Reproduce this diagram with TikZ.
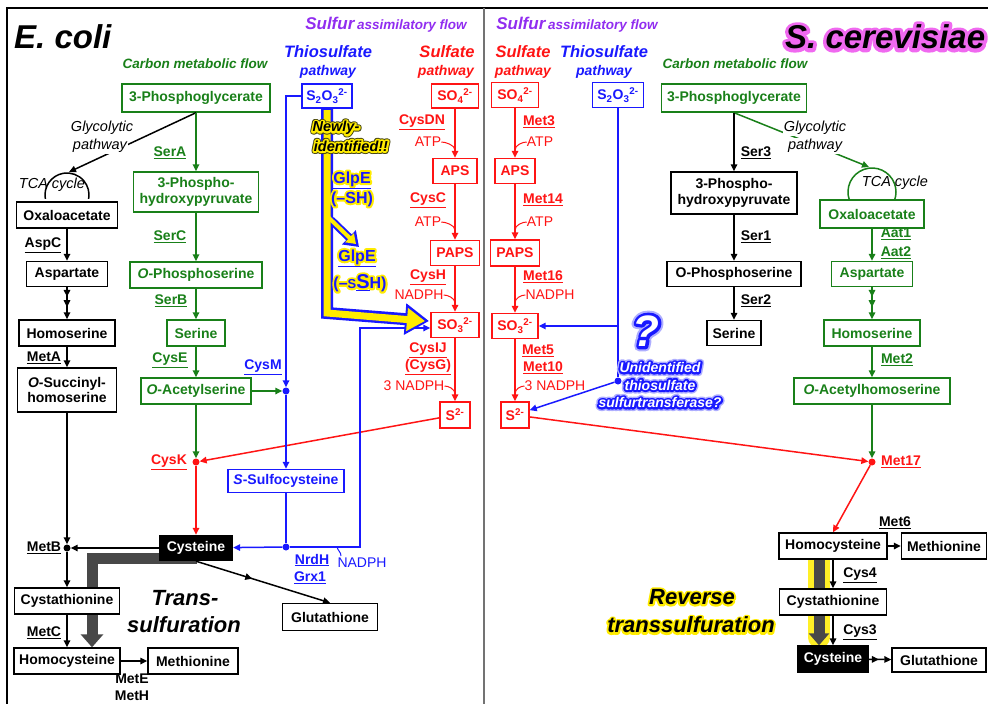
\documentclass[tikz,border=0pt]{standalone}
\usepackage{fontspec}
\setmainfont{Liberation Sans}
\usetikzlibrary{arrows.meta,calc,decorations.markings}
\pgfdeclarelayer{bg}
\pgfsetlayers{bg,main}
\definecolor{cgreen}{RGB}{25,128,25}
\definecolor{cred}{RGB}{255,20,20}
\definecolor{cblue}{RGB}{25,25,255}
\definecolor{cpurple}{RGB}{145,45,240}
\definecolor{cgray}{RGB}{72,72,72}
\definecolor{cyel}{RGB}{255,236,0}
\definecolor{cpink}{RGB}{240,105,240}
\definecolor{cdark}{RGB}{70,70,20}
\newcommand\bxf{\bfseries\fontsize{14}{15.5}\selectfont}
\newcommand\enf{\bfseries\fontsize{14}{17}\selectfont}
\newcommand\cof{\fontsize{14}{16}\selectfont}
% glow: stroked copy of the text (PDF text render mode 1) under the filled text
\newcommand\glwc[3]{\rlap{\special{pdf:literal 1 j 1 J #2 w 1 Tr}\color{#1}#3\special{pdf:literal 0 Tr}}}
\newcommand\glw[3]{\leavevmode\glwc{#1}{#2}{#3}#3}
\begin{document}
\begin{tikzpicture}[x=1pt,y=-1pt,
 bx/.style={draw,line width=1.4pt,inner sep=1pt,align=center,font=\bxf,fill=white},
 gb/.style={bx,draw=cgreen,text=cgreen},
 kb/.style={bx,draw=black,text=black},
 rb/.style={bx,draw=cred,text=cred},
 bb/.style={bx,draw=cblue,text=cblue},
 cb/.style={bx,fill=black,text=white},
 enz/.style={font=\enf,inner sep=0pt},
 cofn/.style={font=\cof,inner sep=0pt},
 ln/.style={line width=1.5pt},
 ar/.style={ln,-{Triangle[length=7pt,width=6.5pt]}},
 jdot/.style={circle,fill,inner sep=0pt,minimum size=7pt},
 hk/.style={line width=1pt},
 glyc/.style={font=\itshape\fontsize{14.5}{16}\selectfont,fill=white,inner sep=1pt},
 tri/.style={ln,-{Triangle[length=7pt,width=6.5pt]},postaction={decorate,decoration={markings,mark=at position 0.3 with {\arrow{Triangle[length=7pt,width=6.5pt]}},mark=at position 0.62 with {\arrow{Triangle[length=7pt,width=6.5pt]}}}}},
 midarr/.style={postaction={decorate,decoration={markings,mark=at position #1 with {\arrow{Triangle[length=7pt,width=6.5pt]}}}}},
 head/.style={font=\bfseries\itshape\fontsize{16.5}{17}\selectfont,inner sep=0pt},
 headp/.style={font=\bfseries\itshape\fontsize{14}{15}\selectfont,inner sep=0pt},
 cmf/.style={font=\bfseries\itshape\fontsize{13.5}{14}\selectfont,text=cgreen,inner sep=0pt},
 big/.style={font=\bfseries\itshape\fontsize{22}{24}\selectfont,inner sep=0pt},
]
\useasboundingbox (0,0) rectangle (988,704);
\begin{pgfonlayer}{bg}
\fill[white] (0,0) rectangle (988,704);
\end{pgfonlayer}
% frame
\draw[line width=2pt] (7,704) -- (7,8) -- (990,8);
\draw[line width=1.5pt,black!55] (484,8) -- (484,704);

% titles and headings
\node[font=\bfseries\itshape\fontsize{33}{33}\selectfont,anchor=west,inner sep=0pt] (ecoli) at (14,37) {E. coli};
\node[font=\bfseries\itshape\fontsize{33}{33}\selectfont,anchor=west,inner sep=0pt] (scer) at (785,37) {\glw{cpink}{7}{S. cerevisiae}};
\node[cmf] (cmfL) at (195,64) {Carbon metabolic flow};
\node[cmf] (cmfR) at (735,64) {Carbon metabolic flow};
\node[text=cpurple,inner sep=0pt] (saL) at (386,25) {{\bfseries\itshape\fontsize{17}{18}\selectfont Sulfur} {\bfseries\itshape\fontsize{13.5}{14}\selectfont assimilatory flow}};
\node[text=cpurple,inner sep=0pt] (saR) at (577,25) {{\bfseries\itshape\fontsize{17}{18}\selectfont Sulfur} {\bfseries\itshape\fontsize{13.5}{14}\selectfont assimilatory flow}};
\node[head,text=cblue] (thL) at (328,52) {Thiosulfate};
\node[headp,text=cblue] (thpL) at (328,72) {pathway};
\node[head,text=cred] (suL) at (447,52) {Sulfate};
\node[headp,text=cred] (supL) at (446,72) {pathway};
\node[head,text=cred] (suR) at (523,52) {Sulfate};
\node[headp,text=cred] (supR) at (523,72) {pathway};
\node[head,text=cblue] (thR) at (604,52) {Thiosulfate};
\node[headp,text=cblue] (thpR) at (604,72) {pathway};

% LEFT boxes
\node[gb,minimum width=148pt,minimum height=28pt] (pg) at (196,98) {3-Phosphoglycerate};
\node[gb,minimum width=125pt,minimum height=40pt] (hpp) at (196,192) {3-Phospho-\\hydroxypyruvate};
\node[gb,minimum width=132pt,minimum height=26pt] (ops) at (196,275) {\textit{O}-Phosphoserine};
\node[gb,minimum width=58pt,minimum height=26pt] (ser) at (196,333) {Serine};
\node[gb,minimum width=110pt,minimum height=26pt] (oas) at (196,391) {\textit{O}-Acetylserine};
\node[kb,minimum width=101pt,minimum height=26pt] (oaa) at (67,215) {Oxaloacetate};
\node[kb,minimum width=81pt,minimum height=25pt] (asp) at (67,274) {Aspartate};
\node[kb,minimum width=96pt,minimum height=26pt] (hse) at (67,333) {Homoserine};
\node[kb,minimum width=99pt,minimum height=44pt] (osh) at (67,390) {\textit{O}-Succinyl-\\homoserine};
\node[kb,minimum width=105pt,minimum height=26pt] (cth) at (67,601) {Cystathionine};
\node[kb,minimum width=106pt,minimum height=26pt] (hcy) at (67,661) {Homocysteine};
\node[kb,minimum width=90pt,minimum height=26pt] (met) at (193,661) {Methionine};
\node[cb,minimum width=73pt,minimum height=25pt] (cys) at (196,548) {Cysteine};
\node[kb,minimum width=95pt,minimum height=27pt] (gsh) at (330,617) {Glutathione};
\node[bb,minimum width=116pt,minimum height=23pt] (ssc) at (286,481) {\textit{S}-Sulfocysteine};
\node[bb,minimum width=50pt,minimum height=24pt] (s2o3L) at (327,96) {S\textsubscript{2}O\textsubscript{3}\textsuperscript{2-}};
\node[rb,minimum width=47pt,minimum height=24pt] (so4L) at (455,96) {SO\textsubscript{4}\textsuperscript{2-}};
\node[rb,minimum width=44pt,minimum height=25pt] (apsL) at (455,171) {APS};
\node[rb,minimum width=49pt,minimum height=25pt] (papsL) at (455,253) {PAPS};
\node[rb,minimum width=48pt,minimum height=25pt] (so3L) at (455,325) {SO\textsubscript{3}\textsuperscript{2-}};
\node[rb,minimum width=30pt,minimum height=26pt] (s2L) at (455,415) {S\textsuperscript{2-}};

% RIGHT boxes
\node[rb,minimum width=47pt,minimum height=25pt] (so4R) at (515,95) {SO\textsubscript{4}\textsuperscript{2-}};
\node[rb,minimum width=40pt,minimum height=25pt] (apsR) at (515,171) {APS};
\node[rb,minimum width=49pt,minimum height=26pt] (papsR) at (515,253) {PAPS};
\node[rb,minimum width=46pt,minimum height=25pt] (so3R) at (515,326) {SO\textsubscript{3}\textsuperscript{2-}};
\node[rb,minimum width=28pt,minimum height=26pt] (s2R) at (515,415) {S\textsuperscript{2-}};
\node[bb,minimum width=51pt,minimum height=25pt] (s2o3R) at (618,95) {S\textsubscript{2}O\textsubscript{3}\textsuperscript{2-}};
\node[gb,minimum width=145pt,minimum height=28pt] (pgR) at (734,98) {3-Phosphoglycerate};
\node[kb,minimum width=126pt,minimum height=42pt] (hppR) at (734,193) {3-Phospho-\\hydroxypyruvate};
\node[kb,minimum width=134pt,minimum height=25pt] (opsR) at (734,274) {O-Phosphoserine};
\node[kb,minimum width=54pt,minimum height=25pt] (serR) at (734,333) {Serine};
\node[gb,minimum width=104pt,minimum height=28pt] (oaaR) at (872,214) {Oxaloacetate};
\node[gb,minimum width=81pt,minimum height=25pt] (aspR) at (872,274) {Aspartate};
\node[gb,minimum width=96pt,minimum height=26pt] (hseR) at (872,333) {Homoserine};
\node[gb,minimum width=156pt,minimum height=26pt] (oahR) at (872,391) {\textit{O}-Acetylhomoserine};
\node[kb,minimum width=108pt,minimum height=26pt] (hcyR) at (833,546) {Homocysteine};
\node[kb,minimum width=85pt,minimum height=26pt] (metR) at (944,546) {Methionine};
\node[kb,minimum width=107pt,minimum height=26pt] (cthR) at (833,602) {Cystathionine};
\node[cb,minimum width=70pt,minimum height=26pt] (cysR) at (833,659) {Cysteine};
\node[kb,minimum width=94pt,minimum height=24pt] (gshR) at (939,660) {Glutathione};

% junction dots
\node[jdot,black] (metb) at (67,548) {};
\node[jdot,cred] (cysk) at (196,462) {};
\node[jdot,cblue] (cysm) at (286,391) {};
\node[jdot,cblue] (nrd) at (286,547) {};
\node[jdot,cblue] (uts) at (618,381) {};
\node[jdot,cred] (met17) at (872,462) {};
\coordinate (tcaLt) at (69,172);
\coordinate (tcaRt) at (869,167);
\coordinate (bcorner) at (360,547);

% thick transsulfuration arrows (background, under the boxes)
\begin{pgfonlayer}{bg}
\coordinate (tsL) at (197,558);
\draw[cgray,line width=11pt,-{Triangle[length=13pt,width=22pt]}] (tsL) -| ([xshift=25pt]hcy.north);
\draw[cyel!85!white,line width=22pt,line cap=round] ([xshift=-14pt]hcyR.south) -- ([xshift=-14pt,yshift=8pt]cysR.north);
\draw[cgray,line width=11pt,-{Triangle[length=12pt,width=20pt]}] ([xshift=-14pt]hcyR.south) -- ([xshift=-14pt]cysR.north);
\end{pgfonlayer}

% LEFT black connectors
\draw[ar] (pg.south) -- (tcaLt);
\draw[ln] (67,195) ++(190:22pt) arc[start angle=190,end angle=-10,radius=22pt];
\node[glyc] (glL1) at (102,128) {Glycolytic};
\node[glyc] (glL2) at (100,146) {pathway};
\node[font=\itshape\fontsize{14.5}{16}\selectfont,inner sep=0pt] (tcaL) at (52,185) {TCA cycle};
\draw[ar] (oaa) -- (asp);
\draw[tri] (asp) -- (hse);
\draw[ar] (hse) -- (osh);
\draw[ar] (osh) -- (metb);
\draw[ar] (metb) -- (cth);
\draw[ar] (cth) -- (hcy);
\draw[ar] (hcy) -- (met);
\draw[ar] (cys) -- (metb);
\draw[ar,midarr=0.42] (cys.south) -- (gsh.north);

% LEFT green
\draw[ar,cgreen] (pg) -- (hpp);
\draw[ar,cgreen] (hpp) -- (ops);
\draw[ar,cgreen] (ops) -- (ser);
\draw[ar,cgreen] (ser) -- (oas);
\draw[ar,cgreen] (oas) -- (cysm);
\draw[ar,cgreen] (oas) -- (cysk);
\draw[ar,cred] (cysk) -- (cys);
\draw[ar,cred] (s2L) -- (cysk);

% LEFT red sulfate chain
\draw[ar,cred] (so4L) -- (apsL);
\draw[ar,cred] (apsL) -- (papsL);
\draw[ar,cred] (papsL) -- (so3L);
\draw[ar,cred] (so3L) -- (s2L);

% LEFT blue
\draw[ar,cblue] (s2o3L.west) -| (cysm);
\draw[ar,cblue] (cysm) -- (ssc);
\draw[ln,cblue] (ssc) -- (nrd);
\draw[ar,cblue] (nrd) -- (cys);
\draw[ar,cblue] (nrd) -- (bcorner) |- ([yshift=-3pt]so3L.west);

% yellow highlighted thiosulfate route
\coordinate (ycorner) at (327,313);
\coordinate (yend) at (429,321);
\coordinate (yb1) at (331,220);
\coordinate (yb2) at (359,247);
\draw[cblue,line width=8pt,-{Triangle[length=14pt,width=19pt]}] (yb1) -- (yb2);
\draw[cblue,line width=12pt,-{Triangle[length=24pt,width=30pt]}] (s2o3L.south) -- (ycorner) -- (yend);
\draw[cyel,line width=7pt,-{Triangle[length=18pt,width=22pt]}] ([yshift=-1.5pt]s2o3L.south) -- (ycorner) -- ([xshift=-4pt]yend);
\draw[cyel,line width=4pt,-{Triangle[length=9pt,width=12pt]}] ([xshift=-3pt,yshift=3pt]yb1) -- ($(yb2)+(-3,-3)$);

% RIGHT red / blue
\draw[ar,cred] (so4R) -- (apsR);
\draw[ar,cred] (apsR) -- (papsR);
\draw[ar,cred] (papsR) -- (so3R);
\draw[ar,cred] (so3R) -- (s2R);
\draw[ln,cblue] (s2o3R) -- (uts);
\draw[ar,cblue] (s2o3R.south |- so3R) -- (so3R);
\draw[ar,cblue] (uts) -- (s2R);
\draw[ar,cred] (s2R) -- (met17);
\draw[ar,cred] (met17) -- (hcyR.north);

% RIGHT green / black
\draw[ar,cgreen] (pgR.south) -- (tcaRt);
\draw[ln,cgreen] (872,192) ++(200:24pt) arc[start angle=200,end angle=-20,radius=24pt];
\node[glyc] (glR1) at (815,128) {Glycolytic};
\node[glyc] (glR2) at (815,146) {pathway};
\node[font=\itshape\fontsize{14.5}{16}\selectfont,inner sep=0pt] (tcaR) at (895,183) {TCA cycle};
\draw[ar,cgreen] (oaaR) -- (aspR);
\draw[tri,cgreen] (aspR) -- (hseR);
\draw[ar,cgreen] (hseR) -- (oahR);
\draw[ar,cgreen] (oahR) -- (met17);
\draw[ar] (pgR) -- (hppR);
\draw[ar] (hppR) -- (opsR);
\draw[ar] (opsR) -- (serR);
\draw[ar] (hcyR) -- (metR);
\draw[ar] (hcyR) -- (cthR);
\draw[ar] (cthR) -- (cysR);
\draw[ar,midarr=0.45] (cysR) -- (gshR);

% enzyme labels LEFT
\node[enz,text=cgreen] (serA) at (170,153) {\underline{SerA}};
\node[enz,text=cgreen] (serC) at (170,237) {\underline{SerC}};
\node[enz,text=cgreen] (serB) at (171,301) {\underline{SerB}};
\node[enz,text=cgreen] (cysE) at (170,360) {\underline{CysE}};
\node[enz,text=cred] (cysKl) at (169,462) {\underline{CysK}};
\node[enz,text=cblue] (cysMl) at (263,367) {\underline{CysM}};
\node[enz] (aspC) at (43,245) {\underline{AspC}};
\node[enz] (metA) at (44,358) {\underline{MetA}};
\node[enz] (metBl) at (44,548) {\underline{MetB}};
\node[enz] (metC) at (44,633) {\underline{MetC}};
\node[enz] (metE) at (132,679) {MetE};
\node[enz] (metH) at (132,696) {MetH};
\node[enz,text=cblue] (nrdh) at (312,560) {\underline{NrdH}};
\node[enz,text=cblue] (grx1) at (310,578) {\underline{Grx1}};
\node[cofn,text=cblue] (nadB) at (362,563) {NADPH};
\draw[hk,cblue] (341,556) .. controls (341,552) and (338,551) .. (337,547);
\node[enz,text=cred] (cysDN) at (422,122) {\underline{CysDN}};
\node[cofn,text=cred] (atpL1) at (428,142) {ATP};
\node[enz,text=cred] (cysC) at (428,200) {\underline{CysC}};
\node[cofn,text=cred] (atpL2) at (428,222) {ATP};
\node[enz,text=cred] (cysH) at (428,277) {\underline{CysH}};
\node[cofn,text=cred] (nadL) at (419,295) {NADPH};
\node[enz,text=cred] (cysIJ) at (428,350) {\underline{CysIJ}};
\node[enz,text=cred] (cysG) at (428,367) {\underline{(CysG)}};
\node[cofn,text=cred] (nad3L) at (414,386) {3 NADPH};
\foreach \n in {atpL1,atpL2,nadL,nad3L}
  \draw[hk,cred] (\n.east) .. controls +(4,0) and +(0,-5) .. ($(\n.east -| so4L)+(0,8)$);

% enzyme labels RIGHT
\node[enz,text=cred] (met3) at (539,122) {\underline{Met3}};
\node[cofn,text=cred] (atpR1) at (540,142) {ATP};
\node[enz,text=cred] (met14) at (543,200) {\underline{Met14}};
\node[cofn,text=cred] (atpR2) at (540,222) {ATP};
\node[enz,text=cred] (met16) at (543,277) {\underline{Met16}};
\node[cofn,text=cred] (nadR) at (550,295) {NADPH};
\node[enz,text=cred] (met5) at (538,351) {\underline{Met5}};
\node[enz,text=cred] (met10) at (543,368) {\underline{Met10}};
\node[cofn,text=cred] (nad3R) at (555,386) {3 NADPH};
\foreach \n in {atpR1,atpR2,nadR,nad3R}
  \draw[hk,cred] (\n.west) .. controls +(-4,0) and +(0,-5) .. ($(\n.west -| so4R)+(0,8)$);
\node[enz,text=cred] (met17l) at (901,462) {\underline{Met17}};
\node[enz] (ser3) at (756,153) {\underline{Ser3}};
\node[enz] (ser1) at (756,237) {\underline{Ser1}};
\node[enz] (ser2) at (756,301) {\underline{Ser2}};
\node[enz,text=cgreen] (aat1) at (896,234) {\underline{Aat1}};
\node[enz,text=cgreen] (aat2) at (896,253) {\underline{Aat2}};
\node[enz,text=cgreen] (met2) at (897,360) {\underline{Met2}};
\node[enz] (met6) at (895,523) {\underline{Met6}};
\node[enz] (cys4) at (860,575) {\underline{Cys4}};
\node[enz] (cys3) at (860,632) {\underline{Cys3}};

% highlighted texts
\node[font=\bfseries\itshape\fontsize{14.5}{16}\selectfont,inner sep=0pt] (nw1) at (336,128) {\glwc{cdark}{5.5}{Newly-}\glw{cyel}{3.6}{Newly-}};
\node[font=\bfseries\itshape\fontsize{14.5}{16}\selectfont,inner sep=0pt] (nw2) at (351,146) {\glwc{cdark}{5.5}{identified!!}\glw{cyel}{3.6}{identified!!}};
\node[font=\bfseries\fontsize{16}{18}\selectfont,text=cblue,inner sep=0pt] (glp1) at (352,180) {\glw{cyel}{4}{\underline{GlpE}}};
\node[font=\bfseries\fontsize{16}{18}\selectfont,text=cblue,inner sep=0pt] (glp1b) at (352,199) {\glw{cyel}{4}{(–SH)}};
\node[font=\bfseries\fontsize{16}{18}\selectfont,text=cblue,inner sep=0pt] (glp2) at (357,258) {\glw{cyel}{4}{\underline{GlpE}}};
\node[font=\bfseries\fontsize{16}{18}\selectfont,text=cblue,inner sep=0pt] (glp2b) at (360,283) {\glw{cyel}{4}{(–{\fontsize{13}{14}\selectfont S}\underline{\fontsize{20}{20}\selectfont S}H)}};
\node[big] (tr1) at (185,598) {Trans-};
\node[big] (tr2) at (184,625) {sulfuration};
\node[big] (rv1) at (692,597) {\glw{cyel}{4}{Reverse}};
\node[big] (rv2) at (691,625) {\glw{cyel}{4}{transsulfuration}};
\node[font=\bfseries\itshape\fontsize{44}{44}\selectfont,text=white,inner sep=0pt] (qm) at (646,331) {\glwc{cblue!35}{10}{?}\glw{cblue}{6}{?}};
\node[font=\bfseries\itshape\fontsize{14}{17.5}\selectfont,text=white,align=center,inner sep=0pt] (unid) at (660,385) {\glwc{cblue!35}{7}{Unidentified}\glw{cblue}{4}{Unidentified}\\\glwc{cblue!35}{7}{thiosulfate}\glw{cblue}{4}{thiosulfate}\\\glwc{cblue!35}{7}{sulfurtransferase?}\glw{cblue}{4}{sulfurtransferase?}};
\end{tikzpicture}
\end{document}
